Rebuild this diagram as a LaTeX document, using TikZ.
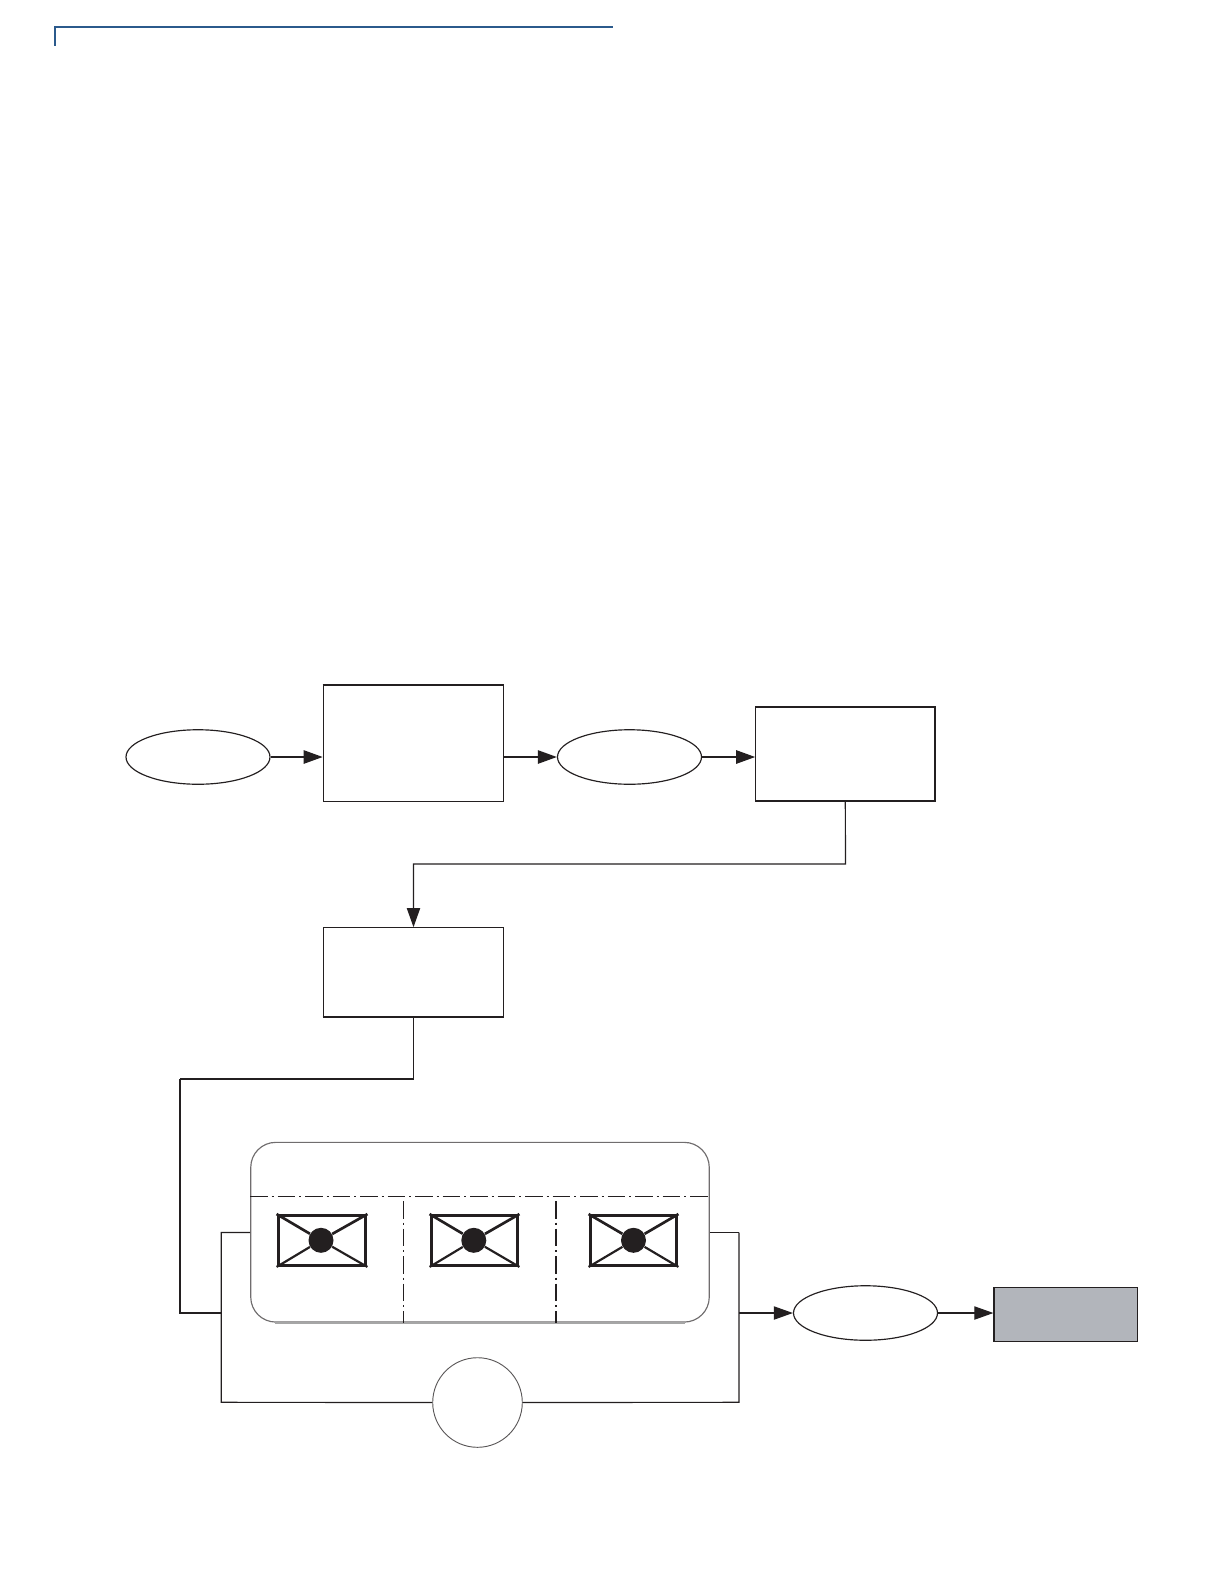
\documentclass[tikz,border=0pt]{standalone}
\usetikzlibrary{arrows.meta,shapes.geometric,calc}
\def\pxu{0.6pt}
\definecolor{ink}{HTML}{231F20}
\definecolor{rule}{HTML}{2B5A8C}
\definecolor{slate}{HTML}{B2B5BB}
\tikzset{
  x=0.6pt,y=-0.6pt,
  thinline/.style={draw=ink,line width=0.7pt},
  heavyline/.style={draw=ink,line width=1.1pt},
  tip/.style={-{Triangle[length=11.5pt,width=8pt]}},
  oval/.style={ellipse,thinline,inner sep=0pt,minimum width=144*\pxu,minimum height=54.5*\pxu},
  block/.style={rectangle,thinline,inner sep=0pt},
  dashdot/.style={dash pattern=on 10.5pt off 2.4pt on 1.2pt off 2.4pt},
  envelope/.style={rectangle,draw=ink,line width=2pt,inner sep=0pt,minimum height=49.5*\pxu},
  seal/.style={circle,fill=ink,inner sep=0pt,minimum size=25*\pxu},
  flap/.style={draw=ink,line width=1.3pt},
}
\begin{document}
\begin{tikzpicture}
\useasboundingbox (0,0) rectangle (1224,1584);
% header rule
\coordinate (ra) at (54.5,45.5);
\coordinate (rb) at (54.5,27);
\coordinate (rc) at (613,27);
\draw[rule,line width=1.2pt] (ra) -- (rb) -- (rc);
% upper row
\node[oval] (e1) at (198,757) {};
\node[block,minimum width=180.4*\pxu,minimum height=116*\pxu] (b1) at (413.5,743.5) {};
\node[oval] (e2) at (629.5,757) {};
\node[block,minimum width=179*\pxu,minimum height=94*\pxu] (b2) at (845.3,754) {};
\node[block,minimum width=180.4*\pxu,minimum height=88.5*\pxu] (b3) at (413.5,972) {};
\draw[heavyline] (b1.north west) -- (b1.north east);
\draw[heavyline] (b2.north east) -- (b2.south east);
\draw[draw=ink,line width=0.9pt] (b3.south west) -- (b3.south east);
\draw[heavyline,tip] (e1.east) -- (e1.east -| b1.west);
\draw[heavyline,tip] (e2.west -| b1.east) -- (e2.west);
\draw[heavyline,tip] (e2.east) -- (e2.east -| b2.west);
\coordinate (m1) at (845.5,864);
\draw[thinline,tip] (b2.south) -- (m1) -- (m1 -| b3.north) -- (b3.north);
% tray
\node[rectangle,rounded corners=15pt,draw=ink!65,line width=0.7pt,inner sep=0pt,minimum width=458.5*\pxu,minimum height=179.7*\pxu] (tray) at (480,1232.2) {};
\draw[draw=black!35,line width=1.1pt] ($(tray.south west)+(25,0)$) -- ($(tray.south east)+(-25,0)$);
\coordinate (h1) at (tray.west |- 0,1196.3);
\coordinate (h2) at (tray.east |- 0,1196.3);
\coordinate (v1a) at (403.3,1201);
\coordinate (v2a) at (556,1201);
\draw[thinline,dashdot] (h1) -- (h2);
\draw[thinline,dashdot] (v1a) -- (v1a |- tray.south);
\draw[heavyline,dashdot] (v2a) -- (v2a |- tray.south);
% envelopes
\foreach \n/\cx/\w/\sx in {1/322/87.5/321,2/474.5/86.5/473.8,3/633.5/86.5/633.5}{
  \node[envelope,minimum width=\w*\pxu] (env\n) at (\cx,1240.5) {};
  \node[seal] (seal\n) at (\sx,1240.3) {};
  \draw[flap,line width=1.6pt] (env\n.north west) -- (seal\n);
  \draw[flap,line width=1.6pt] (env\n.north east) -- (seal\n);
  \draw[flap] (env\n.south west) -- (seal\n);
  \draw[flap] (env\n.south east) -- (seal\n);
}
% loop
\node[circle,draw=ink!75,line width=0.55pt,inner sep=0pt,minimum size=89.6*\pxu] (c1) at (477.5,1402.5) {};
\coordinate (bl) at (221.3,1232.5);
\coordinate (blb) at (221.3,1402.3);
\coordinate (br) at (739,1232.5);
\coordinate (brb) at (739,1402.3);
\coordinate (jl) at (221.3,1313);
\coordinate (jr) at (739,1313);
\coordinate (m2) at (413.5,1079);
\coordinate (m3) at (180,1079);
\coordinate (m4) at (180,1313);
\draw[thinline] (tray.west |- bl) -- (bl) -- (blb) -- (c1.west);
\draw[thinline] (c1.east) -- (brb) -- (br);
\draw[heavyline] (br) -- (tray.east |- br);
\draw[thinline] (b3.south) -- (m2) -- (m3);
\draw[heavyline] (m3) -- (m4) -- (jl);
% output
\node[oval] (e3) at (865.5,1313) {};
\node[block,fill=slate,minimum width=143.6*\pxu,minimum height=54*\pxu] (b4) at (1065.8,1314.3) {};
\draw[thinline,tip] (jr) -- (e3.west);
\draw[thinline,tip] (e3.east) -- (e3.east -| b4.west);
\end{tikzpicture}
\end{document}
